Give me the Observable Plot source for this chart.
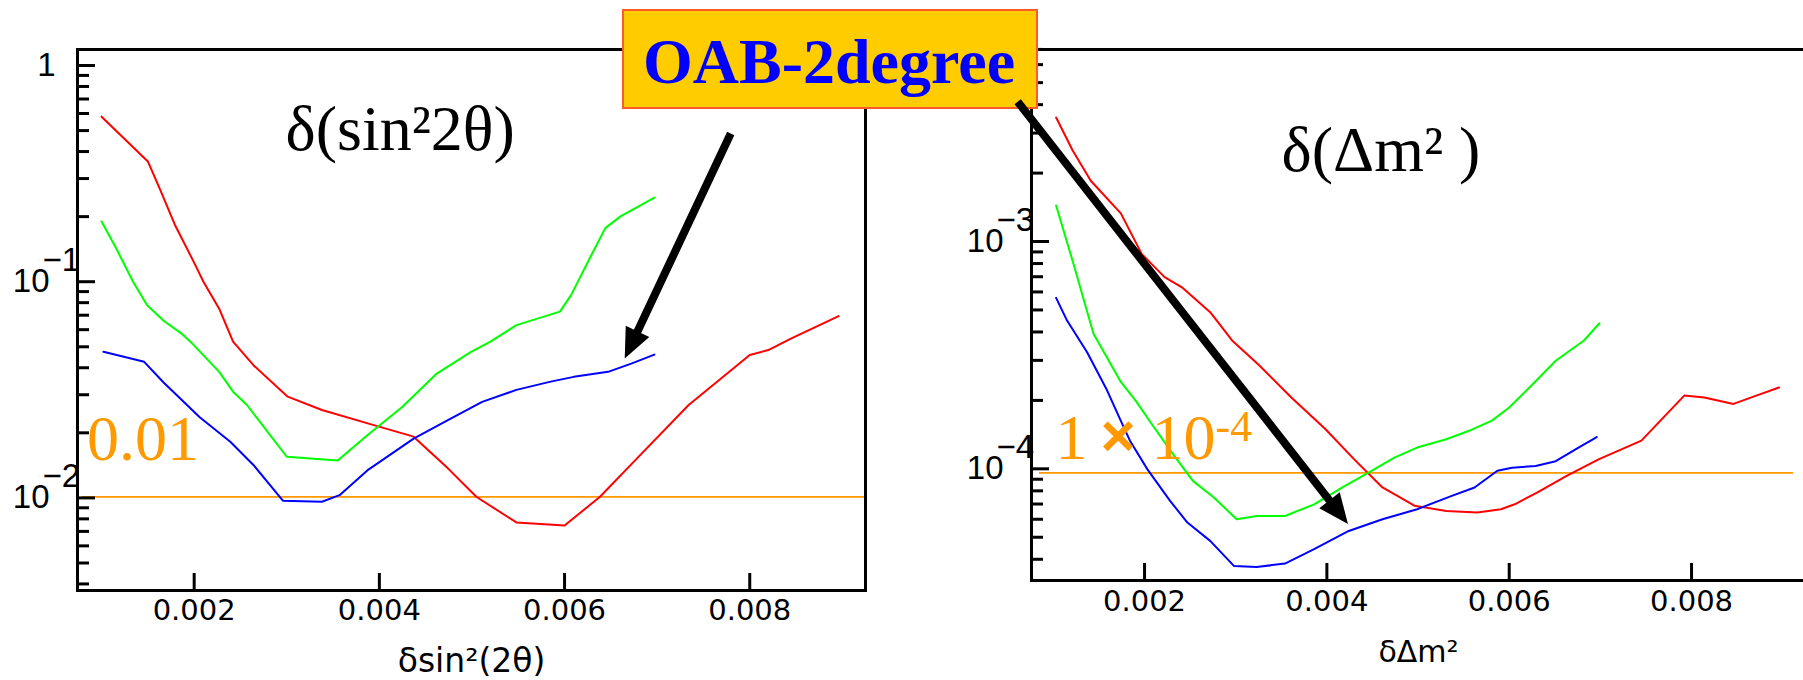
<!DOCTYPE html>
<html><head><meta charset="utf-8">
<script src="https://cdn.jsdelivr.net/npm/d3@7"></script>
<script src="https://cdn.jsdelivr.net/npm/@observablehq/plot@0.6"></script>
<style>
html,body{margin:0;padding:0;background:#fff;overflow:hidden;width:1803px;height:680px}
#wrap{position:relative;width:1803px;height:680px;overflow:hidden}
#left{position:absolute;top:0;left:0;width:900px;height:680px}
#right{position:absolute;top:0;left:900px;width:905px;height:680px}
</style></head>
<body><div id="wrap"><div id="left"></div><div id="right"></div></div>
<script>
// ---------- data: left panel  δ(sin²2θ) ----------
const sinRed = [[0.00100,0.58],[0.00150,0.36],[0.00163,0.268],[0.00179,0.184],[0.00201,0.12],[0.00210,0.1],[0.00227,0.075],[0.00242,0.0528],[0.00264,0.0411],[0.00301,0.0294],[0.00338,0.0255],[0.00394,0.0217],[0.00437,0.0192],[0.00474,0.0137],[0.00505,0.0101],[0.00548,0.0077],[0.00600,0.00745],[0.00638,0.0101],[0.00678,0.0152],[0.00734,0.0269],[0.00800,0.0458],[0.00820,0.0483],[0.00845,0.0547],[0.00896,0.0693]];
const sinGreen = [[0.00100,0.19],[0.00116,0.142],[0.00134,0.1],[0.00149,0.078],[0.00167,0.066],[0.00186,0.0577],[0.00196,0.0528],[0.00227,0.0383],[0.00242,0.031],[0.00257,0.0269],[0.00282,0.0195],[0.00300,0.0155],[0.00355,0.0149],[0.00387,0.0195],[0.00425,0.0264],[0.00462,0.0376],[0.00499,0.0474],[0.00520,0.0528],[0.00548,0.063],[0.00595,0.0727],[0.00607,0.0867],[0.00629,0.133],[0.00644,0.177],[0.00660,0.2],[0.00697,0.245]];
const sinBlue = [[0.00102,0.0474],[0.00146,0.0426],[0.00167,0.0342],[0.00206,0.0236],[0.00239,0.0182],[0.00264,0.0142],[0.00296,0.0097],[0.00338,0.0096],[0.00357,0.0103],[0.00387,0.0134],[0.00437,0.0188],[0.00474,0.0229],[0.00511,0.0278],[0.00548,0.0316],[0.00585,0.0345],[0.00610,0.0363],[0.00647,0.0383],[0.00672,0.0418],[0.00697,0.046]];

// ---------- data: right panel  δ(Δm²) ----------
const dmRed = [[0.00103,3.51e-3],[0.00121,2.52e-3],[0.00141,1.85e-3],[0.00174,1.33e-3],[0.00197,8.8e-4],[0.00222,6.97e-4],[0.00241,6.29e-4],[0.00272,4.89e-4],[0.00296,3.67e-4],[0.00326,2.85e-4],[0.00361,2.06e-4],[0.00398,1.5e-4],[0.00430,1.1e-4],[0.00461,8.28e-5],[0.00496,6.88e-5],[0.00531,6.53e-5],[0.00565,6.42e-5],[0.00591,6.64e-5],[0.00606,6.98e-5],[0.00631,7.87e-5],[0.00663,9.31e-5],[0.00698,1.1e-4],[0.00745,1.33e-4],[0.00792,2.1e-4],[0.00814,2.06e-4],[0.00846,1.93e-4],[0.00871,2.1e-4],[0.00896,2.28e-4]];
const dmGreen = [[0.00103,1.44e-3],[0.00122,7.98e-4],[0.00144,3.93e-4],[0.00174,2.41e-4],[0.00190,2.0e-4],[0.00209,1.55e-4],[0.00234,1.12e-4],[0.00253,8.85e-5],[0.00276,7.48e-5],[0.00301,6.0e-5],[0.00323,6.2e-5],[0.00354,6.2e-5],[0.00386,6.98e-5],[0.00417,8.28e-5],[0.00449,9.8e-5],[0.00474,1.12e-4],[0.00499,1.24e-4],[0.00531,1.35e-4],[0.00556,1.47e-4],[0.00581,1.63e-4],[0.00600,1.86e-4],[0.00626,2.36e-4],[0.00651,2.99e-4],[0.00682,3.67e-4],[0.00699,4.37e-4]];
const dmBlue = [[0.00103,5.65e-4],[0.00115,4.49e-4],[0.00137,3.26e-4],[0.00159,2.21e-4],[0.00173,1.66e-4],[0.00184,1.33e-4],[0.00203,9.97e-5],[0.00228,7.23e-5],[0.00247,5.8e-5],[0.00272,4.82e-5],[0.00298,3.74e-5],[0.00323,3.7e-5],[0.00354,3.83e-5],[0.00386,4.43e-5],[0.00424,5.33e-5],[0.00461,6.0e-5],[0.00499,6.64e-5],[0.00537,7.6e-5],[0.00562,8.28e-5],[0.00587,9.8e-5],[0.00603,1.01e-4],[0.00629,1.03e-4],[0.00651,1.08e-4],[0.00676,1.24e-4],[0.00696,1.38e-4]];

// ---------- ticks and labels ----------
const xTickValues = [0.002, 0.004, 0.006, 0.008];
const xTickLabels = ["0.002", "0.004", "0.006", "0.008"];
const sinMajor = [1, 0.1, 0.01];
const sinMinor = [0.004,0.005,0.006,0.007,0.008,0.009,0.02,0.03,0.04,0.05,0.06,0.07,0.08,0.09,0.2,0.3,0.4,0.5,0.6,0.7,0.8,0.9];
const sinPow = [{v: 0.1, e: "\u22121"}, {v: 0.01, e: "\u22122"}];
const dmMajor = [1e-3, 1e-4];
const dmMinor = [4e-5,5e-5,6e-5,7e-5,8e-5,9e-5,2e-4,3e-4,4e-4,5e-4,6e-4,7e-4,8e-4,9e-4,2e-3,3e-3,4e-3,5e-3,6e-3,7e-3];
const dmPow = [{v: 1e-3, e: "\u22123"}, {v: 1e-4, e: "\u22124"}];

// ---------- annotations ----------
const sinTitle = "δ(sin²2θ)";
const dmTitle = "δ(Δm² )";
const sinXLabel = "δsin²(2θ)";
const dmXLabel = "δΔm²";
const sinLimit = 0.0101;
const dmLimit = 0.96e-4;
const sinLimitLabel = "0.01";
const boxLabel = "OAB-2degree";
const sinArrow = [{x: 0.00780, y: 0.482}, {x: 0.006655, y: 0.0439}];
const dmArrow = [{x: 0.000614, y: 0.0041}, {x: 0.004237, y: 5.69e-5}];

const RED = "#ff0000", GREEN = "#00ff00", BLUE = "#0000ff", ORANGE = "#ff9900";
const SANS = "Liberation Sans, Arial, sans-serif";
const TICKF = "DejaVu Sans, sans-serif";
const SERIF = "Liberation Serif, Times New Roman, serif";

function arrowMark(pts) {
  return (index, scales) => {
    const x1 = scales.x(pts[0].x), y1 = scales.y(pts[0].y);
    const x2 = scales.x(pts[1].x), y2 = scales.y(pts[1].y);
    const dx = x2 - x1, dy = y2 - y1, L = Math.hypot(dx, dy);
    const ux = dx / L, uy = dy / L, hl = 30, hw = 13;
    const bx = x2 - ux * hl, by = y2 - uy * hl;
    const g = d3.create("svg:g");
    g.append("line").attr("x1", x1).attr("y1", y1).attr("x2", bx + ux * 2).attr("y2", by + uy * 2)
      .attr("stroke", "black").attr("stroke-width", 8);
    g.append("path").attr("d", `M${x2},${y2}L${bx - uy * hw},${by + ux * hw}L${bx + uy * hw},${by - ux * hw}Z`)
      .attr("fill", "black");
    return g.node();
  };
}

function boxMark(offsetX) {
  return () => {
    const g = d3.create("svg:g");
    g.append("rect").attr("x", 623 - offsetX).attr("y", 10).attr("width", 414).attr("height", 98)
      .attr("fill", "#ffcc00").attr("stroke", "#ff5a28").attr("stroke-width", 2);
    g.append("text").attr("x", 643 - offsetX).attr("y", 83).attr("fill", BLUE)
      .attr("text-anchor", "start")
      .attr("font-family", SERIF).attr("font-weight", "bold").attr("font-size", 64).text(boxLabel);
    return g.node();
  };
}

function panel(o) {
  const innerW = o.width - o.mL - o.mR, innerH = o.height - o.mT - o.mB;
  const toObj = a => a.map(([x, y]) => ({x, y}));
  return Plot.plot({
    width: o.width, height: o.height,
    marginLeft: o.mL, marginRight: o.mR, marginTop: o.mT, marginBottom: o.mB,
    style: {overflow: "visible", background: "transparent", maxWidth: "none"},
    x: {domain: o.xDomain, axis: null},
    y: {type: "log", domain: o.yDomain, axis: null},
    marks: [
      Plot.ruleY([o.limit], {y: d => d, stroke: ORANGE, strokeWidth: 1.7, insetLeft: o.limInsetL, insetRight: o.limInsetR}),
      Plot.line(toObj(o.red), {x: "x", y: "y", stroke: RED, strokeWidth: 2}),
      Plot.line(toObj(o.green), {x: "x", y: "y", stroke: GREEN, strokeWidth: 2}),
      Plot.line(toObj(o.blue), {x: "x", y: "y", stroke: BLUE, strokeWidth: 2}),
      Plot.frame({stroke: "black", strokeWidth: 3}),
      Plot.ruleX(xTickValues, {x: d => d, stroke: "black", strokeWidth: 3, insetTop: innerH - 17}),
      Plot.ruleY(o.major, {y: d => d, stroke: "black", strokeWidth: 3, insetRight: innerW - 18}),
      Plot.ruleY(o.minor, {y: d => d, stroke: "black", strokeWidth: 3, insetRight: innerW - 12}),
      Plot.text(xTickValues, {x: d => d, text: (d, i) => xTickLabels[i], frameAnchor: "bottom", dy: o.tickDy,
        lineAnchor: "middle", fontFamily: TICKF, fontSize: 29, fill: "black"}),
      ...(o.one ? [Plot.text([1], {y: d => d, text: () => "1", frameAnchor: "left", dx: -22, textAnchor: "end",
        lineAnchor: "middle", fontFamily: SANS, fontSize: 33, fill: "black"})] : []),
      Plot.text(o.pow, {y: "v", text: () => "10", frameAnchor: "left", dx: -28, textAnchor: "end",
        lineAnchor: "middle", fontFamily: SANS, fontSize: 33, fill: "black"}),
      Plot.text(o.pow, {y: "v", text: "e", frameAnchor: "left", dx: -35, dy: -21, textAnchor: "start",
        lineAnchor: "middle", fontFamily: SANS, fontSize: 33, fill: "black"}),
      Plot.text([o.xLabel], {text: d => d, frameAnchor: "bottom", dy: 81, lineAnchor: "bottom",
        fontFamily: TICKF, fontSize: o.xLabelSize, fill: "black"}),
      Plot.text([o.title], {text: d => d, frameAnchor: "top-left", dx: o.titleDx, dy: o.titleDy, lineAnchor: "bottom",
        textAnchor: "start", fontFamily: SERIF, fontSize: o.titleSize, fill: "black"}),
      ...o.limitTexts.map(t => Plot.text([t.text], {text: d => d, y: () => o.limit, frameAnchor: "left",
        dx: t.dx, dy: t.dy, lineAnchor: "bottom", textAnchor: "start", fontFamily: t.font || SERIF,
        fontWeight: t.weight || "normal", fontSize: t.size, fill: ORANGE})),
      ...(o.extra || [])
    ]
  });
}

const left = panel({
  width: 900, height: 680, mL: 77, mR: 35, mT: 49, mB: 90,
  xDomain: [0.00074, 0.00925], yDomain: [0.00373, 1.186],
  red: sinRed, green: sinGreen, blue: sinBlue,
  major: sinMajor, minor: sinMinor, pow: sinPow, one: true,
  limit: sinLimit, limInsetL: 4.5, limInsetR: 0,
  tickDy: 20, xLabel: sinXLabel, xLabelSize: 33,
  title: sinTitle, titleDx: 208, titleDy: 100, titleSize: 64,
  limitTexts: [{text: sinLimitLabel, dx: 9.5, dy: -37, size: 64}],
  extra: [arrowMark(sinArrow)]
});
document.getElementById("left").append(left);

const right = panel({
  width: 905, height: 680, mL: 131, mR: 0, mT: 49, mB: 100,
  xDomain: [0.00076, 0.00925], yDomain: [3.226e-5, 0.006995],
  red: dmRed, green: dmGreen, blue: dmBlue,
  major: dmMajor, minor: dmMinor, pow: dmPow, one: false,
  limit: dmLimit, limInsetL: 8, limInsetR: 12,
  tickDy: 21.7, xLabel: dmXLabel, xLabelSize: 30,
  title: dmTitle, titleDx: 250, titleDy: 121, titleSize: 64,
  limitTexts: [
    {text: "1", dx: 24, dy: -13.5, size: 64},
    {text: "×", dx: 69, dy: -17, size: 60, font: SANS, weight: "bold"},
    {text: "10", dx: 120, dy: -13.5, size: 64},
    {text: "-4", dx: 184, dy: -32, size: 44}
  ],
  extra: [boxMark(900), arrowMark(dmArrow)]
});
document.getElementById("right").append(right);
</script></body></html>
